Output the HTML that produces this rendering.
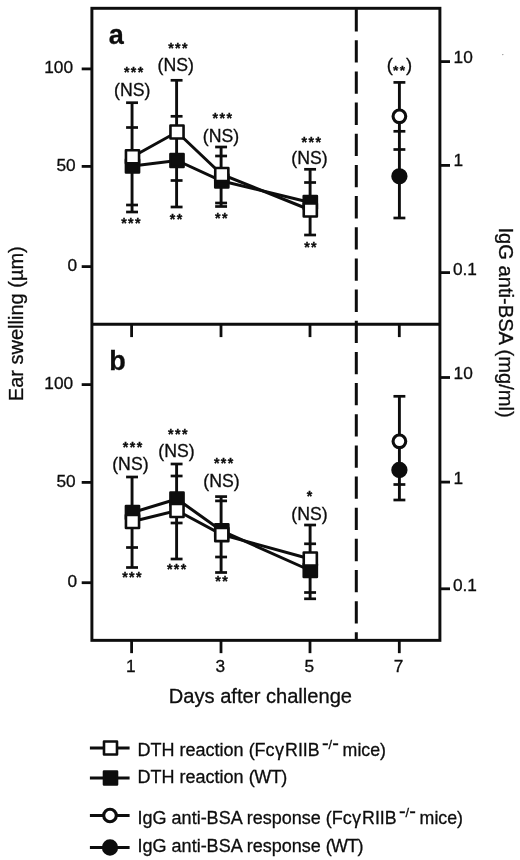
<!DOCTYPE html>
<html><head><meta charset="utf-8"><title>Figure</title>
<style>html,body{margin:0;padding:0;background:#fff}svg{display:block;filter:grayscale(1)}text{font-family:"Liberation Sans", Arial, Helvetica, sans-serif;fill:#0d0d0d}.ns{letter-spacing:0}.st{letter-spacing:1.4px}text{stroke:#0d0d0d;stroke-width:.3px}</style>
</head><body>
<svg width="520" height="860" viewBox="0 0 520 860">
<rect width="520" height="860" fill="#fff"/>
<rect x="91.9" y="8.3" width="348.0" height="632.0500000000001" fill="none" stroke="#0d0d0d" stroke-width="2.95"/>
<line x1="91.9" y1="324.3" x2="439.9" y2="324.3" stroke="#0d0d0d" stroke-width="2.95" />
<line x1="356.3" y1="9.14" x2="356.3" y2="640.35" stroke="#0d0d0d" stroke-width="3.0" stroke-dasharray="22.3 8.86"/>
<line x1="81.7" y1="68.9" x2="91.9" y2="68.9" stroke="#0d0d0d" stroke-width="2.8" />
<text x="73.0" y="73.0" font-size="17.3" text-anchor="end" font-weight="normal" >100</text>
<line x1="81.7" y1="166.4" x2="91.9" y2="166.4" stroke="#0d0d0d" stroke-width="2.8" />
<text x="75.7" y="170.5" font-size="17.3" text-anchor="end" font-weight="normal" >50</text>
<line x1="81.7" y1="266.6" x2="91.9" y2="266.6" stroke="#0d0d0d" stroke-width="2.8" />
<text x="77.2" y="270.70000000000005" font-size="17.3" text-anchor="end" font-weight="normal" >0</text>
<line x1="81.7" y1="384.6" x2="91.9" y2="384.6" stroke="#0d0d0d" stroke-width="2.8" />
<text x="73.2" y="388.70000000000005" font-size="17.3" text-anchor="end" font-weight="normal" >100</text>
<line x1="81.7" y1="482.4" x2="91.9" y2="482.4" stroke="#0d0d0d" stroke-width="2.8" />
<text x="75.7" y="486.5" font-size="17.3" text-anchor="end" font-weight="normal" >50</text>
<line x1="81.7" y1="582.7" x2="91.9" y2="582.7" stroke="#0d0d0d" stroke-width="2.8" />
<text x="77.2" y="586.8000000000001" font-size="17.3" text-anchor="end" font-weight="normal" >0</text>
<line x1="439.9" y1="61.6" x2="450.0" y2="61.6" stroke="#0d0d0d" stroke-width="2.8" />
<text x="453.6" y="62.7" font-size="17.3" text-anchor="start" font-weight="normal" >10</text>
<line x1="439.9" y1="165.4" x2="450.0" y2="165.4" stroke="#0d0d0d" stroke-width="2.8" />
<text x="453.6" y="166.2" font-size="17.3" text-anchor="start" font-weight="normal" >1</text>
<line x1="439.9" y1="272.6" x2="450.0" y2="272.6" stroke="#0d0d0d" stroke-width="2.8" />
<text x="452.9" y="275.4" font-size="17.3" text-anchor="start" font-weight="normal" >0.1</text>
<line x1="439.9" y1="377.5" x2="450.0" y2="377.5" stroke="#0d0d0d" stroke-width="2.8" />
<text x="453.6" y="379.2" font-size="17.3" text-anchor="start" font-weight="normal" >10</text>
<line x1="439.9" y1="482.1" x2="450.0" y2="482.1" stroke="#0d0d0d" stroke-width="2.8" />
<text x="453.6" y="483.8" font-size="17.3" text-anchor="start" font-weight="normal" >1</text>
<line x1="439.9" y1="588.8" x2="450.0" y2="588.8" stroke="#0d0d0d" stroke-width="2.8" />
<text x="452.9" y="591.3" font-size="17.3" text-anchor="start" font-weight="normal" >0.1</text>
<line x1="131.6" y1="324.3" x2="131.6" y2="337.1" stroke="#0d0d0d" stroke-width="2.8" />
<line x1="131.6" y1="640.35" x2="131.6" y2="653.15" stroke="#0d0d0d" stroke-width="2.8" />
<text x="130.79999999999998" y="671.5" font-size="17.3" text-anchor="middle" font-weight="normal" >1</text>
<line x1="221.0" y1="324.3" x2="221.0" y2="337.1" stroke="#0d0d0d" stroke-width="2.8" />
<line x1="221.0" y1="640.35" x2="221.0" y2="653.15" stroke="#0d0d0d" stroke-width="2.8" />
<text x="220.2" y="671.5" font-size="17.3" text-anchor="middle" font-weight="normal" >3</text>
<line x1="310" y1="324.3" x2="310" y2="337.1" stroke="#0d0d0d" stroke-width="2.8" />
<line x1="310" y1="640.35" x2="310" y2="653.15" stroke="#0d0d0d" stroke-width="2.8" />
<text x="309.2" y="671.5" font-size="17.3" text-anchor="middle" font-weight="normal" >5</text>
<line x1="399.3" y1="324.3" x2="399.3" y2="337.1" stroke="#0d0d0d" stroke-width="2.8" />
<line x1="399.3" y1="640.35" x2="399.3" y2="653.15" stroke="#0d0d0d" stroke-width="2.8" />
<text x="398.5" y="671.5" font-size="17.3" text-anchor="middle" font-weight="normal" >7</text>
<text x="260.4" y="702.9" font-size="20.1" text-anchor="middle" font-weight="normal" >Days after challenge</text>
<text x="23.4" y="323.7" font-size="20" text-anchor="middle" font-weight="normal" transform="rotate(-90 23.4 323.7)">Ear swelling (µm)</text>
<text x="498.9" y="322.65" font-size="20.15" text-anchor="middle" font-weight="normal" transform="rotate(90 498.9 322.65)">IgG anti-BSA (mg/ml)</text>
<text x="108.7" y="43.9" font-size="27" text-anchor="start" font-weight="bold" >a</text>
<text x="109.2" y="369.8" font-size="27" text-anchor="start" font-weight="bold" >b</text>
<line x1="132.05" y1="102.7" x2="132.05" y2="212" stroke="#0d0d0d" stroke-width="2.9" />
<line x1="126.10000000000001" y1="102.7" x2="138.0" y2="102.7" stroke="#0d0d0d" stroke-width="2.7" />
<line x1="126.10000000000001" y1="127.5" x2="138.0" y2="127.5" stroke="#0d0d0d" stroke-width="2.7" />
<line x1="126.10000000000001" y1="205" x2="138.0" y2="205" stroke="#0d0d0d" stroke-width="2.7" />
<line x1="126.10000000000001" y1="212" x2="138.0" y2="212" stroke="#0d0d0d" stroke-width="2.7" />
<line x1="176.6" y1="80.3" x2="176.6" y2="207" stroke="#0d0d0d" stroke-width="2.9" />
<line x1="170.65" y1="80.3" x2="182.54999999999998" y2="80.3" stroke="#0d0d0d" stroke-width="2.7" />
<line x1="170.65" y1="116.3" x2="182.54999999999998" y2="116.3" stroke="#0d0d0d" stroke-width="2.7" />
<line x1="170.65" y1="180.5" x2="182.54999999999998" y2="180.5" stroke="#0d0d0d" stroke-width="2.7" />
<line x1="170.65" y1="207" x2="182.54999999999998" y2="207" stroke="#0d0d0d" stroke-width="2.7" />
<line x1="221.1" y1="147" x2="221.1" y2="206.5" stroke="#0d0d0d" stroke-width="2.9" />
<line x1="215.15" y1="147" x2="227.04999999999998" y2="147" stroke="#0d0d0d" stroke-width="2.7" />
<line x1="215.15" y1="156" x2="227.04999999999998" y2="156" stroke="#0d0d0d" stroke-width="2.7" />
<line x1="215.15" y1="203" x2="227.04999999999998" y2="203" stroke="#0d0d0d" stroke-width="2.7" />
<line x1="215.15" y1="206.5" x2="227.04999999999998" y2="206.5" stroke="#0d0d0d" stroke-width="2.7" />
<line x1="310.1" y1="169.3" x2="310.1" y2="235" stroke="#0d0d0d" stroke-width="2.9" />
<line x1="304.15000000000003" y1="169.3" x2="316.05" y2="169.3" stroke="#0d0d0d" stroke-width="2.7" />
<line x1="304.15000000000003" y1="182.5" x2="316.05" y2="182.5" stroke="#0d0d0d" stroke-width="2.7" />
<line x1="304.15000000000003" y1="235" x2="316.05" y2="235" stroke="#0d0d0d" stroke-width="2.7" />
<polyline fill="none" stroke="#0d0d0d" stroke-width="3.0" stroke-linejoin="miter" points="132.5,156.8 177.0,132 221.8,174.5 310.3,210"/>
<polyline fill="none" stroke="#0d0d0d" stroke-width="3.0" stroke-linejoin="miter" points="132.5,166 177.0,160.5 221.8,181 310.3,202.5"/>
<rect x="125.95" y="159.45" width="13.1" height="13.1" fill="#0d0d0d" stroke="#0d0d0d" stroke-width="2.6" stroke-linejoin="round"/>
<rect x="125.95" y="150.25" width="13.1" height="13.1" fill="#fff" stroke="#0d0d0d" stroke-width="2.6" stroke-linejoin="round"/>
<rect x="170.45" y="153.95" width="13.1" height="13.1" fill="#0d0d0d" stroke="#0d0d0d" stroke-width="2.6" stroke-linejoin="round"/>
<rect x="170.45" y="125.45" width="13.1" height="13.1" fill="#fff" stroke="#0d0d0d" stroke-width="2.6" stroke-linejoin="round"/>
<rect x="215.25" y="174.45" width="13.1" height="13.1" fill="#0d0d0d" stroke="#0d0d0d" stroke-width="2.6" stroke-linejoin="round"/>
<rect x="215.25" y="167.95" width="13.1" height="13.1" fill="#fff" stroke="#0d0d0d" stroke-width="2.6" stroke-linejoin="round"/>
<rect x="303.75" y="195.95" width="13.1" height="13.1" fill="#0d0d0d" stroke="#0d0d0d" stroke-width="2.6" stroke-linejoin="round"/>
<rect x="303.75" y="203.45" width="13.1" height="13.1" fill="#fff" stroke="#0d0d0d" stroke-width="2.6" stroke-linejoin="round"/>
<line x1="132.05" y1="477" x2="132.05" y2="567.5" stroke="#0d0d0d" stroke-width="2.9" />
<line x1="126.10000000000001" y1="477" x2="138.0" y2="477" stroke="#0d0d0d" stroke-width="2.7" />
<line x1="126.10000000000001" y1="547.5" x2="138.0" y2="547.5" stroke="#0d0d0d" stroke-width="2.7" />
<line x1="126.10000000000001" y1="567.5" x2="138.0" y2="567.5" stroke="#0d0d0d" stroke-width="2.7" />
<line x1="176.6" y1="464" x2="176.6" y2="559" stroke="#0d0d0d" stroke-width="2.9" />
<line x1="170.65" y1="464" x2="182.54999999999998" y2="464" stroke="#0d0d0d" stroke-width="2.7" />
<line x1="170.65" y1="476" x2="182.54999999999998" y2="476" stroke="#0d0d0d" stroke-width="2.7" />
<line x1="170.65" y1="523" x2="182.54999999999998" y2="523" stroke="#0d0d0d" stroke-width="2.7" />
<line x1="170.65" y1="559" x2="182.54999999999998" y2="559" stroke="#0d0d0d" stroke-width="2.7" />
<line x1="221.1" y1="496.6" x2="221.1" y2="572.5" stroke="#0d0d0d" stroke-width="2.9" />
<line x1="215.15" y1="496.6" x2="227.04999999999998" y2="496.6" stroke="#0d0d0d" stroke-width="2.7" />
<line x1="215.15" y1="500.9" x2="227.04999999999998" y2="500.9" stroke="#0d0d0d" stroke-width="2.7" />
<line x1="215.15" y1="557" x2="227.04999999999998" y2="557" stroke="#0d0d0d" stroke-width="2.7" />
<line x1="215.15" y1="572.5" x2="227.04999999999998" y2="572.5" stroke="#0d0d0d" stroke-width="2.7" />
<line x1="310.1" y1="525" x2="310.1" y2="598.8" stroke="#0d0d0d" stroke-width="2.9" />
<line x1="304.15000000000003" y1="525" x2="316.05" y2="525" stroke="#0d0d0d" stroke-width="2.7" />
<line x1="304.15000000000003" y1="543.8" x2="316.05" y2="543.8" stroke="#0d0d0d" stroke-width="2.7" />
<line x1="304.15000000000003" y1="592.5" x2="316.05" y2="592.5" stroke="#0d0d0d" stroke-width="2.7" />
<line x1="304.15000000000003" y1="598.8" x2="316.05" y2="598.8" stroke="#0d0d0d" stroke-width="2.7" />
<polyline fill="none" stroke="#0d0d0d" stroke-width="3.0" stroke-linejoin="miter" points="132.5,521.5 177.0,510.5 221.8,534.6 310.3,559"/>
<polyline fill="none" stroke="#0d0d0d" stroke-width="3.0" stroke-linejoin="miter" points="132.5,512.5 177.0,499 221.8,530.9 310.3,570.5"/>
<rect x="125.95" y="505.95" width="13.1" height="13.1" fill="#0d0d0d" stroke="#0d0d0d" stroke-width="2.6" stroke-linejoin="round"/>
<rect x="125.95" y="514.95" width="13.1" height="13.1" fill="#fff" stroke="#0d0d0d" stroke-width="2.6" stroke-linejoin="round"/>
<rect x="170.45" y="492.45" width="13.1" height="13.1" fill="#0d0d0d" stroke="#0d0d0d" stroke-width="2.6" stroke-linejoin="round"/>
<rect x="170.45" y="503.95" width="13.1" height="13.1" fill="#fff" stroke="#0d0d0d" stroke-width="2.6" stroke-linejoin="round"/>
<rect x="215.25" y="524.35" width="13.1" height="13.1" fill="#0d0d0d" stroke="#0d0d0d" stroke-width="2.6" stroke-linejoin="round"/>
<rect x="215.25" y="528.05" width="13.1" height="13.1" fill="#fff" stroke="#0d0d0d" stroke-width="2.6" stroke-linejoin="round"/>
<rect x="303.75" y="563.95" width="13.1" height="13.1" fill="#0d0d0d" stroke="#0d0d0d" stroke-width="2.6" stroke-linejoin="round"/>
<rect x="303.75" y="552.45" width="13.1" height="13.1" fill="#fff" stroke="#0d0d0d" stroke-width="2.6" stroke-linejoin="round"/>
<line x1="399.4" y1="82.4" x2="399.4" y2="218" stroke="#0d0d0d" stroke-width="2.9" />
<line x1="393.45" y1="82.4" x2="405.34999999999997" y2="82.4" stroke="#0d0d0d" stroke-width="2.7" />
<line x1="393.45" y1="131.3" x2="405.34999999999997" y2="131.3" stroke="#0d0d0d" stroke-width="2.7" />
<line x1="393.45" y1="149.5" x2="405.34999999999997" y2="149.5" stroke="#0d0d0d" stroke-width="2.7" />
<line x1="393.45" y1="218" x2="405.34999999999997" y2="218" stroke="#0d0d0d" stroke-width="2.7" />
<circle cx="399.4" cy="116.3" r="6.35" fill="#fff" stroke="#0d0d0d" stroke-width="3.1"/>
<circle cx="399.4" cy="176.3" r="6.6" fill="#0d0d0d" stroke="#0d0d0d" stroke-width="3.1"/>
<line x1="399.4" y1="396.3" x2="399.4" y2="500" stroke="#0d0d0d" stroke-width="2.9" />
<line x1="393.45" y1="396.3" x2="405.34999999999997" y2="396.3" stroke="#0d0d0d" stroke-width="2.7" />
<line x1="393.45" y1="484.5" x2="405.34999999999997" y2="484.5" stroke="#0d0d0d" stroke-width="2.7" />
<line x1="393.45" y1="500" x2="405.34999999999997" y2="500" stroke="#0d0d0d" stroke-width="2.7" />
<circle cx="399.4" cy="441.3" r="6.35" fill="#fff" stroke="#0d0d0d" stroke-width="3.1"/>
<circle cx="399.4" cy="470" r="6.6" fill="#0d0d0d" stroke="#0d0d0d" stroke-width="3.1"/>
<text x="134.35" y="77.3" font-size="14.2" text-anchor="middle" font-weight="bold" class="st">***</text>
<text x="132.3" y="95.9" font-size="17.7" text-anchor="middle" font-weight="normal" class="ns">(NS)</text>
<text x="178.6" y="52.9" font-size="14.2" text-anchor="middle" font-weight="bold" class="st">***</text>
<text x="175.8" y="70.9" font-size="17.7" text-anchor="middle" font-weight="normal" class="ns">(NS)</text>
<text x="222.95" y="123.2" font-size="14.2" text-anchor="middle" font-weight="bold" class="st">***</text>
<text x="221.0" y="141.6" font-size="17.7" text-anchor="middle" font-weight="normal" class="ns">(NS)</text>
<text x="311.95" y="146.9" font-size="14.2" text-anchor="middle" font-weight="bold" class="st">***</text>
<text x="309.5" y="164.4" font-size="17.7" text-anchor="middle" font-weight="normal" class="ns">(NS)</text>
<text x="131.6" y="227.9" font-size="14.2" text-anchor="middle" font-weight="bold" class="st">***</text>
<text x="176.7" y="223.7" font-size="14.2" text-anchor="middle" font-weight="bold" class="st">**</text>
<text x="221.95" y="223.2" font-size="14.2" text-anchor="middle" font-weight="bold" class="st">**</text>
<text x="311.1" y="251.9" font-size="14.2" text-anchor="middle" font-weight="bold" class="st">**</text>
<text font-size="18.4" y="70.8" text-anchor="start"><tspan x="386.8">(</tspan><tspan x="393.0" y="75.2" font-size="13.6" font-weight="bold" class="st">**</tspan><tspan x="406.0" y="70.8">)</tspan></text>
<text x="133.2" y="452.4" font-size="14.2" text-anchor="middle" font-weight="bold" class="st">***</text>
<text x="130.4" y="470.4" font-size="17.7" text-anchor="middle" font-weight="normal" class="ns">(NS)</text>
<text x="178.45" y="438.7" font-size="14.2" text-anchor="middle" font-weight="bold" class="st">***</text>
<text x="176.5" y="456.6" font-size="17.7" text-anchor="middle" font-weight="normal" class="ns">(NS)</text>
<text x="224.35" y="468.3" font-size="14.2" text-anchor="middle" font-weight="bold" class="st">***</text>
<text x="221.5" y="486.6" font-size="17.7" text-anchor="middle" font-weight="normal" class="ns">(NS)</text>
<text x="310.2" y="501.2" font-size="14.2" text-anchor="middle" font-weight="bold" class="st">*</text>
<text x="309.5" y="519.6" font-size="17.7" text-anchor="middle" font-weight="normal" class="ns">(NS)</text>
<text x="132.6" y="582.4" font-size="14.2" text-anchor="middle" font-weight="bold" class="st">***</text>
<text x="177.3" y="574.4" font-size="14.2" text-anchor="middle" font-weight="bold" class="st">***</text>
<text x="222.2" y="586.4" font-size="14.2" text-anchor="middle" font-weight="bold" class="st">**</text>
<circle cx="502.8" cy="54.6" r="0.7" fill="#888"/>
<line x1="89.9" y1="748.0" x2="129.6" y2="748.0" stroke="#0d0d0d" stroke-width="2.9" />
<rect x="104.0" y="741.5" width="13.0" height="13.0" fill="#fff" stroke="#0d0d0d" stroke-width="2.6" stroke-linejoin="round"/>
<text x="137.6" y="756.2" font-size="18.0" text-anchor="start">DTH reaction (Fc<tspan x="275.1" font-size="18.2">γ</tspan><tspan x="285.1" font-size="17.75">RIIB</tspan><tspan x="321.9" y="750.16" font-size="20">-</tspan><tspan x="328.6" y="749.2" font-size="12.8">/</tspan><tspan x="332.3" y="750.16" font-size="20">-</tspan><tspan x="342.6" y="756.2" font-size="17.75">mice)</tspan></text>
<line x1="89.9" y1="778.0" x2="129.6" y2="778.0" stroke="#0d0d0d" stroke-width="2.9" />
<rect x="104.0" y="771.5" width="13.0" height="13.0" fill="#0d0d0d" stroke="#0d0d0d" stroke-width="2.6" stroke-linejoin="round"/>
<text x="137.6" y="783.4" font-size="18.0" text-anchor="start">DTH reaction <tspan letter-spacing="-0.45">(WT)</tspan></text>
<line x1="89.9" y1="815.5" x2="129.6" y2="815.5" stroke="#0d0d0d" stroke-width="2.9" />
<circle cx="110.0" cy="815.5" r="6.3" fill="#fff" stroke="#0d0d0d" stroke-width="3.1"/>
<text x="137.6" y="823.9" font-size="18.0" text-anchor="start">IgG anti-BSA response (Fc<tspan x="352.1" font-size="18.2">γ</tspan><tspan x="362.1" font-size="17.75">RIIB</tspan><tspan x="398.9" y="818.3599999999999" font-size="20">-</tspan><tspan x="405.6" y="817.4" font-size="12.8">/</tspan><tspan x="409.3" y="818.3599999999999" font-size="20">-</tspan><tspan x="419.6" y="823.9" font-size="17.75">mice)</tspan></text>
<line x1="89.9" y1="847.5" x2="129.6" y2="847.5" stroke="#0d0d0d" stroke-width="2.9" />
<circle cx="110.0" cy="847.5" r="6.6" fill="#0d0d0d" stroke="#0d0d0d" stroke-width="3.1"/>
<text x="137.6" y="851.9" font-size="18.0" text-anchor="start">IgG anti-BSA response <tspan letter-spacing="-0.75">(WT)</tspan></text>
</svg>
</body></html>
